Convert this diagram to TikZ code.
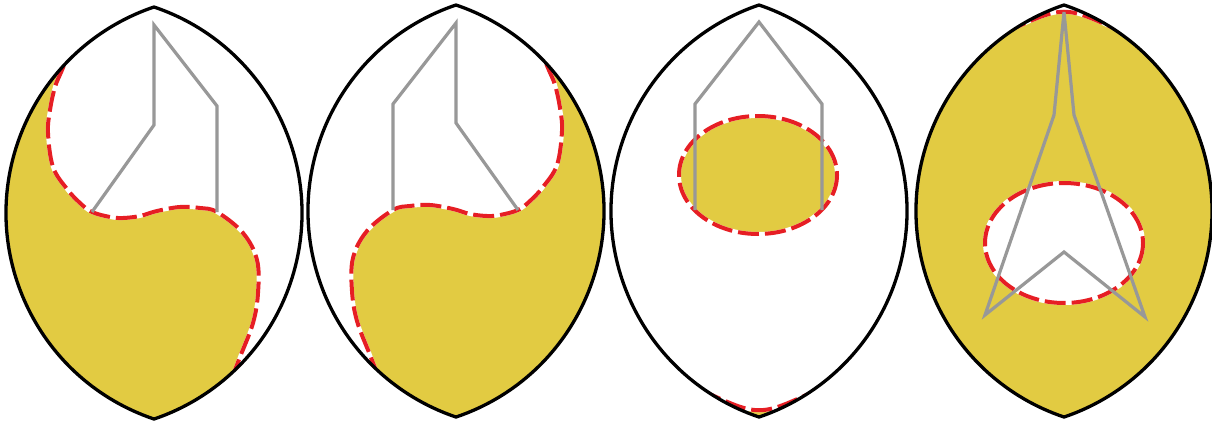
\documentclass[tikz,border=0pt]{standalone}
\definecolor{yel}{RGB}{226,203,66}
\definecolor{redc}{RGB}{230,30,36}
\definecolor{grayc}{RGB}{152,152,152}
\newcommand{\lensp}{(0,-206) arc[start angle=-71.38, end angle=71.38, radius=217.4] arc[start angle=108.62, end angle=251.38, radius=217.4] -- cycle}
\newcommand{\yycurve}{(-80,-172) (-92,-143) (-99,-126) (-104,-103) (-106,-80) (-101,-46) (-87,-24) (-74,-10) (-62,-1) (-44,4) (-31,5) (-14,3) (3,-2) (26,-6) (46,-5) (63,-1) (89,20) (103,47) (104,80) (99,110) (86,144) (76,170)}
\tikzset{
  lensline/.style={draw=black, line width=3.3pt, line join=round},
  grayline/.style={draw=grayc, line width=3.2pt, line join=miter},
  redunder/.style={draw=white, line width=4pt},
  reddash/.style={draw=redc, line width=4pt, dash pattern=on 21pt off 6pt},
}
\begin{document}
\begin{tikzpicture}[x=1pt,y=-1pt]
\useasboundingbox (0,0) rectangle (1212,423);
\fill[white] (0,0) rectangle (1212,423);

% ---------- lens 1 and lens 2 (mirror) ----------
\foreach \cx/\cy/\xs in {154/213/1, 456/211/-1}{
\begin{scope}[shift={(\cx,\cy)}, xscale=\xs]
  \begin{scope}
    \clip \lensp;
    \fill[yel] \lensp;
    \fill[white] (-250,-300) -- plot[smooth, tension=0.6] coordinates {\yycurve} -- (250,200) -- (250,-300) -- cycle;
    \draw[redunder] plot[smooth, tension=0.6] coordinates {\yycurve};
    \draw[reddash] plot[smooth, tension=0.6] coordinates {\yycurve};
  \end{scope}
  \draw[grayline] (-62,-1) -- (0,-88) -- (0,-188) -- (63,-107) -- (63,-1);
  \draw[lensline] \lensp;
\end{scope}
}

% ---------- lens 3 ----------
\begin{scope}[shift={(759,211)}]
  \begin{scope}
    \clip \lensp;
    \fill[yel] (-1,-36) ellipse [x radius=79, y radius=59];
    \fill[yel] (-58,179) .. controls (0,206) .. (58,179) -- (58,260) -- (-58,260) -- cycle;
    \draw[redunder] (-1,-36) ellipse [x radius=79, y radius=59];
    \draw[reddash] (-1,-36) ellipse [x radius=79, y radius=59];
    \draw[redunder] (-58,179) .. controls (0,206) .. (58,179);
    \draw[reddash] (-58,179) .. controls (0,206) .. (58,179);
  \end{scope}
  \draw[grayline] (-64,-1) -- (-64,-107) -- (0,-189) -- (63,-107) -- (63,-1);
  \draw[lensline] \lensp;
\end{scope}

% ---------- lens 4 ----------
\begin{scope}[shift={(1064,211)}]
  \begin{scope}
    \clip \lensp;
    \fill[yel] \lensp;
    \fill[white] (0,32) ellipse [x radius=79, y radius=60];
    \fill[white] (-58,-179) .. controls (0,-206) .. (58,-179) -- (58,-260) -- (-58,-260) -- cycle;
    \draw[redunder] (0,32) ellipse [x radius=79, y radius=60];
    \draw[reddash] (0,32) ellipse [x radius=79, y radius=60];
    \draw[redunder] (-58,-179) .. controls (0,-206) .. (58,-179);
    \draw[reddash] (-58,-179) .. controls (0,-206) .. (58,-179);
  \end{scope}
  \draw[grayline] (0,-199) -- (-10,-96) -- (-79,104) -- (0,41) -- (81,106) -- (10,-96) -- cycle;
  \draw[lensline] \lensp;
\end{scope}
\end{tikzpicture}
\end{document}
